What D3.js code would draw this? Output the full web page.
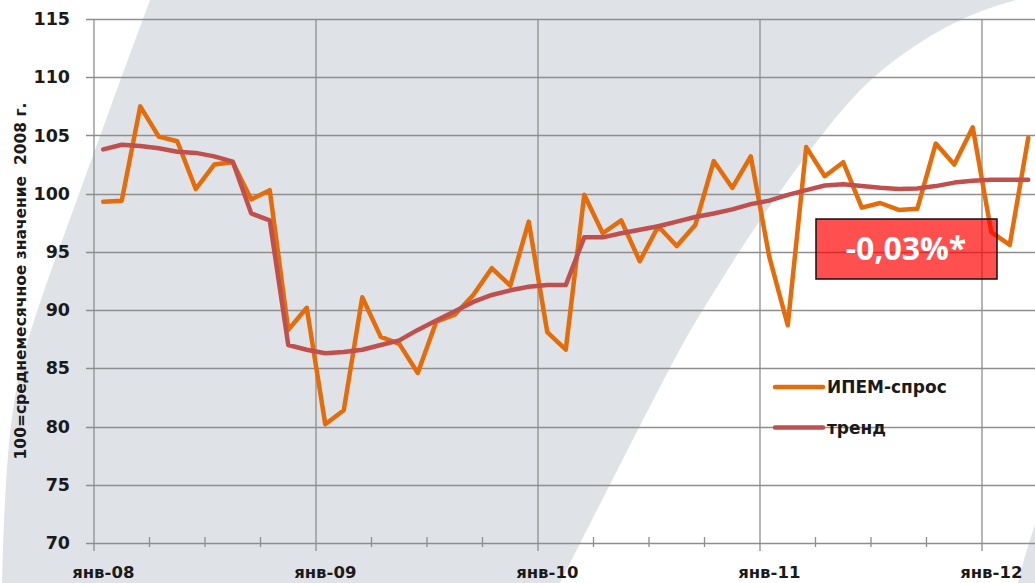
<!DOCTYPE html>
<html>
<head>
<meta charset="utf-8">
<script src="https://cdn.jsdelivr.net/npm/d3@7"></script>
<style>
  html, body { margin: 0; padding: 0; background: #fff; }
  svg { display: block; }
  text { font-family: 'DejaVu Sans', sans-serif; font-weight: bold; fill: #1a1a1a; }
</style>
</head>
<body>
<svg id="chart"></svg>
<script>
// months, янв-08 .. мар-12
var months = [
    'янв-08', 'фев-08', 'мар-08', 'апр-08', 'май-08', 'июн-08', 'июл-08', 'авг-08', 'сен-08', 'окт-08', 'ноя-08', 'дек-08',
    'янв-09', 'фев-09', 'мар-09', 'апр-09', 'май-09', 'июн-09', 'июл-09', 'авг-09', 'сен-09', 'окт-09', 'ноя-09', 'дек-09',
    'янв-10', 'фев-10', 'мар-10', 'апр-10', 'май-10', 'июн-10', 'июл-10', 'авг-10', 'сен-10', 'окт-10', 'ноя-10', 'дек-10',
    'янв-11', 'фев-11', 'мар-11', 'апр-11', 'май-11', 'июн-11', 'июл-11', 'авг-11', 'сен-11', 'окт-11', 'ноя-11', 'дек-11',
    'янв-12', 'фев-12', 'мар-12'
];

var demand = [
    99.3, 99.4, 107.5, 104.9, 104.5, 100.4, 102.5, 102.7, 99.5, 100.3, 88.3, 90.2,
    80.2, 81.4, 91.1, 87.7, 87.1, 84.6, 89.0, 89.6, 91.3, 93.6, 92.1, 97.6,
    88.1, 86.6, 99.9, 96.6, 97.7, 94.2, 97.2, 95.5, 97.3, 102.8, 100.5, 103.2,
    94.6, 88.7, 104.0, 101.5, 102.7, 98.8, 99.2, 98.6, 98.7, 104.3, 102.5, 105.7,
    96.7, 95.6, 104.8
];

var trend = [
    103.8, 104.2, 104.1, 103.9, 103.6, 103.5, 103.2, 102.75, 98.3, 97.7, 87.0, 86.6,
    86.3, 86.4, 86.6, 87.0, 87.4, 88.3, 89.1, 89.9, 90.7, 91.3, 91.7, 92.0,
    92.15, 92.15, 96.25, 96.25, 96.6, 96.9, 97.2, 97.6, 98.0, 98.3, 98.65, 99.1,
    99.4, 99.9, 100.3, 100.7, 100.8, 100.65, 100.5, 100.4, 100.45, 100.65, 100.95, 101.1,
    101.2, 101.2, 101.2
];

var yTicks = [70, 75, 80, 85, 90, 95, 100, 105, 110, 115];
var seriesNames = ['ИПЕМ-спрос', 'тренд'];
var seriesColors = ['#e46c0a', '#c0504d'];
var note = '-0,03%*';
var yTitle = '100=среднемесячное значение  2008 г.';

var width = 1035,
    height = 583;

var svg = d3.select('#chart')
    .attr('width', width)
    .attr('height', height);

// background watermark swoosh: left edge bottom->top, right edge top->bottom
var bgLine = d3.line().curve(d3.curveBasis);
var leftEdge = [[2, 583], [5, 480], [15, 380], [40, 300], [77, 200], [113, 100], [150, 0]];
var rightEdge = [[1016, 0], [975, 12], [925, 38], [880, 70], [845, 105], [810, 150], [770, 205], [740, 250], [712, 295], [686, 337], [660, 387], [630, 445], [597, 510], [560, 583]];
var bgPath = bgLine(leftEdge) + 'L' + bgLine(rightEdge).slice(1) + 'Z';

svg.append('path')
    .attr('d', bgPath)
    .attr('fill', '#dfe2e7');

svg.append('path')
    .attr('d', 'M1035,525 C1028,545 1022,565 1018,583 L1035,583 Z')
    .attr('fill', '#dfe2e7');

var x = d3.scaleBand()
    .domain(months)
    .range([94, 94 + months.length * 18.5])
    .padding(0);

var y = d3.scaleLinear()
    .domain([70, 115])
    .range([543, 19]);

var bw = x.bandwidth();
var grid = svg.append('g')
    .attr('stroke', '#8e8e8e')
    .attr('stroke-width', 1.3);

// horizontal gridlines
grid.selectAll('.hgrid')
    .data(yTicks)
    .enter().append('line')
    .attr('x1', 86)
    .attr('x2', width + 5)
    .attr('y1', function (d) { return Math.round(y(d)) + 0.5; })
    .attr('y2', function (d) { return Math.round(y(d)) + 0.5; });

// vertical gridlines at january
var janIdx = months.map(function (m, i) { return i; }).filter(function (i) { return i % 12 === 0; });
grid.selectAll('.vgrid')
    .data(janIdx)
    .enter().append('line')
    .attr('x1', function (i) { return x(months[i]); })
    .attr('x2', function (i) { return x(months[i]); })
    .attr('y1', y(115))
    .attr('y2', y(70) + 8);

// quarter ticks
var qIdx = months.map(function (m, i) { return i; }).filter(function (i) { return i % 3 === 0 && i % 12 !== 0; });
grid.selectAll('.qtick')
    .data(qIdx)
    .enter().append('line')
    .attr('x1', function (i) { return x(months[i]); })
    .attr('x2', function (i) { return x(months[i]); })
    .attr('y1', y(70) - 6)
    .attr('y2', y(70) + 4);

// y axis labels
var yAxis = d3.axisLeft(y)
    .tickValues(yTicks)
    .tickSize(0)
    .tickPadding(24);

var yg = svg.append('g')
    .attr('transform', 'translate(94,0)')
    .call(yAxis);
yg.select('.domain').remove();
yg.selectAll('text')
    .attr('font-family', 'DejaVu Sans')
    .attr('font-size', 17.5)
    .attr('font-weight', 'bold')
    .attr('fill', '#1a1a1a');

// x labels
svg.selectAll('.xlabel')
    .data(janIdx)
    .enter().append('text')
    .attr('x', function (i) { return x(months[i]) + bw / 2; })
    .attr('y', 578)
    .attr('text-anchor', 'middle')
    .style('font-size', '16.5px')
    .text(function (i) { return months[i]; });

// y title
svg.append('text')
    .attr('transform', 'translate(26,281) rotate(-90)')
    .attr('text-anchor', 'middle')
    .style('font-size', '15.5px')
    .style('white-space', 'pre')
    .text(yTitle);

// lines
var line = d3.line()
    .x(function (d, i) { return x(months[i]) + bw / 2; })
    .y(function (d) { return y(d); });

[demand, trend].forEach(function (s, k) {
    svg.append('path')
        .datum(s)
        .attr('d', line)
        .attr('fill', 'none')
        .attr('stroke', seriesColors[k])
        .attr('stroke-width', 4.5)
        .attr('stroke-linejoin', 'round')
        .attr('stroke-linecap', 'round');
});

// legend
var legend = svg.selectAll('.legend')
    .data(seriesNames)
    .enter().append('g')
    .attr('transform', function (d, i) { return 'translate(775,' + (387 + i * 40.5) + ')'; });

legend.append('line')
    .attr('x1', 0)
    .attr('x2', 48)
    .attr('stroke', function (d, i) { return seriesColors[i]; })
    .attr('stroke-width', 4.5)
    .attr('stroke-linecap', 'round');

legend.append('text')
    .attr('x', 52)
    .attr('dy', '0.36em')
    .style('font-size', '17px')
    .text(function (d) { return d; });

// note box
var box = svg.append('g');
box.append('rect')
    .attr('x', 816)
    .attr('y', 219)
    .attr('width', 181)
    .attr('height', 60)
    .attr('fill', '#ff0000')
    .attr('fill-opacity', 0.69)
    .attr('stroke', '#111')
    .attr('stroke-width', 1.5);

box.append('text')
    .attr('x', 906)
    .attr('y', 260)
    .attr('text-anchor', 'middle')
    .style('font-family', "'Open Sans', sans-serif")
    .style('font-size', '32px')
    .style('fill', '#fff')
    .text(note);
</script>
</body>
</html>
